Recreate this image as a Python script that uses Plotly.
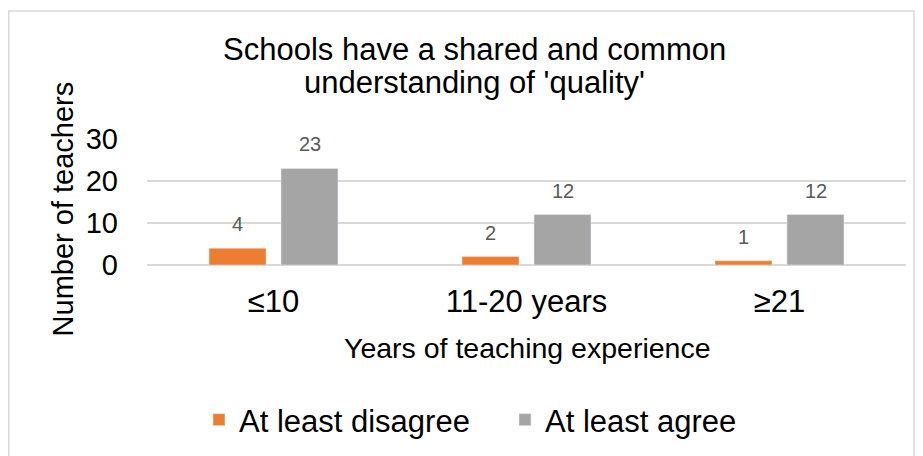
import plotly.graph_objects as go

categories = ["≤10", "11-20 years", "≥21"]
disagree = [4, 2, 1]
agree = [23, 12, 12]
series_names = ["At least disagree", "At least agree"]
y_ticks = [0, 10, 20, 30]
title_lines = ["Schools have a shared and common", "understanding of 'quality'"]

# page body has an 8px margin; figure sized to fit the window exactly
OFF = 8
W, H = 923 - OFF, 456 - OFF
L, R, T, B = 139, 17, 131, 190
pw = W - L - R
ph = H - T - B

def px_x(sx):
    return (sx - OFF - L) / pw

def px_y(sy):
    return (H - B - (sy - OFF)) / ph

ORANGE = "#ED7D31"
GRAY = "#A5A5A5"
FONT = "Liberation Sans, Arial, sans-serif"

fig = go.Figure()
fig.add_trace(go.Bar(x=categories, y=disagree, name=series_names[0], marker_color=ORANGE))
fig.add_trace(go.Bar(x=categories, y=agree, name=series_names[1], marker_color=GRAY))

annotations = []
for vals, shift in ((disagree, -36), (agree, 36)):
    for c, v in zip(categories, vals):
        annotations.append(dict(x=c, y=v, xref="x", yref="y", text=str(v), showarrow=False,
                                xshift=shift, yshift=24, yanchor="middle",
                                font=dict(family=FONT, size=20, color="#595959")))

for line, sy in zip(title_lines, (49, 82)):
    annotations.append(dict(text=line, showarrow=False, xref="paper", yref="paper",
                            x=px_x(474), y=px_y(sy), xanchor="center", yanchor="middle",
                            font=dict(family=FONT, size=31, color="#000000")))

annotations.append(dict(text="Number of teachers", textangle=-90, showarrow=False,
                        xref="paper", yref="paper", x=px_x(63), y=px_y(210),
                        xanchor="center", yanchor="middle",
                        font=dict(family=FONT, size=29, color="#000000")))
annotations.append(dict(text="Years of teaching experience", showarrow=False,
                        xref="paper", yref="paper", x=px_x(527), y=px_y(350),
                        xanchor="center", yanchor="middle",
                        font=dict(family=FONT, size=28.5, color="#000000")))

fig.update_layout(
    width=W, height=H,
    margin=dict(l=L, r=R, t=T, b=B),
    paper_bgcolor="white", plot_bgcolor="white",
    barmode="group", bargap=0.431, bargroupgap=0.208,
    xaxis=dict(showgrid=False, showline=False, ticks="", ticklabelstandoff=15,
               tickfont=dict(family=FONT, size=31, color="#000000")),
    yaxis=dict(range=[0, 30], tickvals=y_ticks, showgrid=True, gridcolor="#D9D9D9",
               gridwidth=1.5, zeroline=True, zerolinecolor="#D9D9D9", zerolinewidth=1.5,
               showline=False, ticks="", ticklabelstandoff=28,
               tickfont=dict(family=FONT, size=29, color="#000000")),
    legend=dict(orientation="h", x=px_x(199), xanchor="left", y=px_y(420), yanchor="middle",
                font=dict(family=FONT, size=31, color="#000000"),
                entrywidth=261, entrywidthmode="pixels", traceorder="normal"),
    annotations=annotations,
    shapes=[dict(type="rect", xref="paper", yref="paper",
                 x0=(0.75 - L) / pw, x1=(914 - OFF - L) / pw,
                 y0=px_y(470), y1=px_y(10),
                 line=dict(color="#D9D9D9", width=1.5), layer="below")],
)

fig.write_html("out.html")
